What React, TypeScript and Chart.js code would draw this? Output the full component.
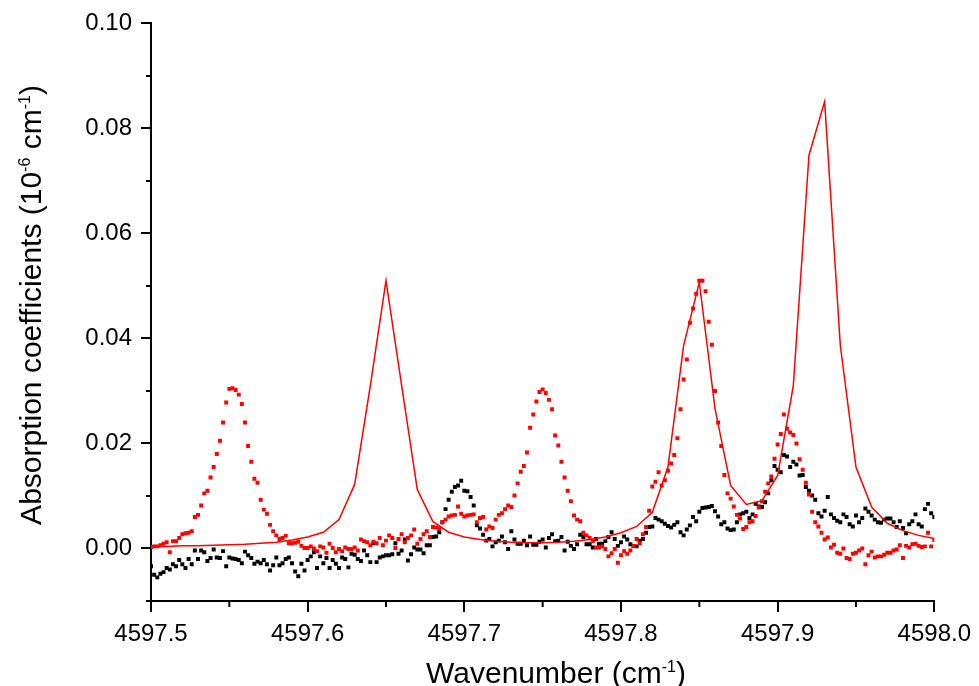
import { useEffect, useRef } from 'react';
import { Chart, ChartConfiguration, registerables } from 'chart.js';

Chart.register(...registerables);

// Measured spectra: sampled every 0.002 cm-1 from 4597.5
const sampleStart = 4597.5;
const sampleStep = 0.002;

const redAbsorption = [
  0.0003, 0.0004, 0.0004, 0.0006, 0.0009, 0.0012, -0.0007, 0.0014, 0.0014, 0.0020,
  0.0027, 0.0029, 0.0030, 0.0033, 0.0060, 0.0064, 0.0082, 0.0105, 0.0110, 0.0135,
  0.0155, 0.0180, 0.0205, 0.0240, 0.0278, 0.0304, 0.0305, 0.0302, 0.0293, 0.0275,
  0.0240, 0.0195, 0.0165, 0.0133, 0.0125, 0.0093, 0.0074, 0.0066, 0.0045, 0.0033,
  0.0025, 0.0018, 0.0020, 0.0024, 0.0010, 0.0010, 0.0011, 0.0013, 0.0005, 0.0001,
  0.0001, 0.0004, 0.0000, -0.0005, 0.0004, 0.0002, -0.0008, 0.0009, 0.0001, -0.0007,
  -0.0001, -0.0005, 0.0002, -0.0001, -0.0001, 0.0002, -0.0004, 0.0017, 0.0014, 0.0012,
  0.0006, 0.0013, 0.0010, 0.0020, 0.0006, 0.0015, 0.0025, 0.0020, 0.0001, 0.0018,
  0.0027, 0.0012, 0.0020, 0.0025, 0.0036, 0.0009, 0.0018, 0.0027, 0.0033, 0.0022,
  0.0041, 0.0040, 0.0038, 0.0050, 0.0055, 0.0061, 0.0063, 0.0064, 0.0080, 0.0066,
  0.0061, 0.0063, 0.0064, 0.0065, 0.0050, 0.0058, 0.0060, 0.0036, 0.0042, 0.0039,
  0.0055, 0.0064, 0.0067, 0.0075, 0.0082, 0.0079, 0.0101, 0.0124, 0.0146, 0.0157,
  0.0183, 0.0230, 0.0255, 0.0280, 0.0298, 0.0303, 0.0296, 0.0283, 0.0265, 0.0215,
  0.0196, 0.0165, 0.0135, 0.0110, 0.0090, 0.0063, 0.0055, 0.0052, 0.0030, 0.0025,
  0.0020, 0.0014, 0.0002, 0.0002, 0.0004, -0.0001, -0.0015, -0.0009, -0.0001, -0.0027,
  -0.0013, -0.0005, -0.0010, -0.0004, 0.0005, 0.0018, 0.0010, 0.0027, 0.0041, 0.0072,
  0.0118, 0.0127, 0.0145, 0.0120, 0.0130, 0.0148, 0.0162, 0.0178, 0.0210, 0.0265,
  0.0322, 0.0360, 0.0430, 0.0457, 0.0485, 0.0510, 0.0510, 0.0490, 0.0432, 0.0388,
  0.0300, 0.0240, 0.0195, 0.0140, 0.0105, 0.0095, 0.0080, 0.0064, 0.0057, 0.0037,
  0.0041, 0.0050, 0.0052, 0.0062, 0.0078, 0.0090, 0.0108, 0.0124, 0.0137, 0.0171,
  0.0198, 0.0218, 0.0255, 0.0228, 0.0221, 0.0216, 0.0200, 0.0170, 0.0150, 0.0125,
  0.0103, 0.0070, 0.0050, 0.0042, 0.0030, 0.0017, 0.0021, 0.0002, 0.0007, -0.0008,
  -0.0010, 0.0000, -0.0018, -0.0020, -0.0010, -0.0008, -0.0004, 0.0000, -0.0030, -0.0013,
  -0.0006, -0.0017, -0.0015, -0.0015, -0.0012, -0.0008, -0.0008, -0.0004, -0.0002, 0.0006,
  -0.0018, 0.0005, 0.0002, 0.0008, 0.0009, 0.0005, 0.0003, 0.0004, 0.0030, 0.0004,
  0.0016,
];

const blackAbsorption = [
  -0.0034, -0.0050, -0.0055, -0.0048, -0.0045, -0.0037, -0.0040, -0.0030, -0.0034, -0.0022,
  -0.0030, -0.0037, -0.0020, -0.0030, -0.0004, -0.0020, -0.0004, -0.0007, -0.0024, -0.0018,
  -0.0002, -0.0017, -0.0018, -0.0005, -0.0034, -0.0017, -0.0019, -0.0020, -0.0022, -0.0028,
  -0.0006, -0.0013, -0.0018, -0.0029, -0.0025, -0.0028, -0.0022, -0.0030, -0.0042, -0.0032,
  -0.0017, -0.0032, -0.0028, -0.0020, -0.0017, -0.0028, -0.0044, -0.0053, -0.0029, -0.0042,
  -0.0022, -0.0015, -0.0007, -0.0037, -0.0015, -0.0028, -0.0018, -0.0037, -0.0022, -0.0029,
  -0.0037, -0.0017, -0.0020, -0.0036, -0.0010, -0.0012, -0.0020, -0.0024, -0.0004, -0.0013,
  -0.0026, 0.0010, -0.0026, -0.0017, -0.0015, -0.0013, -0.0013, -0.0011, 0.0010, -0.0010,
  -0.0004, 0.0017, -0.0023, -0.0011, 0.0002, -0.0002, -0.0002, -0.0009, 0.0006, 0.0006,
  0.0022, 0.0023, 0.0031, 0.0050, 0.0075, 0.0093, 0.0108, 0.0117, 0.0120, 0.0129,
  0.0110, 0.0109, 0.0098, 0.0082, 0.0044, 0.0038, 0.0026, 0.0015, 0.0018, 0.0004,
  0.0012, 0.0015, 0.0023, 0.0012, -0.0001, 0.0033, 0.0017, 0.0009, 0.0009, 0.0015,
  0.0006, 0.0023, 0.0007, 0.0007, 0.0013, 0.0017, 0.0002, 0.0020, 0.0027, 0.0014,
  0.0015, 0.0022, -0.0004, 0.0013, 0.0005, -0.0001, 0.0008, 0.0026, 0.0022, 0.0008,
  0.0008, 0.0002, 0.0018, 0.0009, 0.0009, 0.0014, 0.0022, 0.0031, 0.0018, 0.0005,
  0.0012, 0.0023, 0.0017, 0.0008, 0.0005, 0.0004, 0.0015, 0.0018, 0.0030, 0.0041,
  0.0042, 0.0058, 0.0055, 0.0052, 0.0047, 0.0043, 0.0040, 0.0045, 0.0050, 0.0031,
  0.0025, 0.0036, 0.0044, 0.0060, 0.0052, 0.0070, 0.0077, 0.0078, 0.0079, 0.0081,
  0.0071, 0.0061, 0.0046, 0.0050, 0.0038, 0.0035, 0.0036, 0.0050, 0.0065, 0.0067,
  0.0070, 0.0058, 0.0065, 0.0085, 0.0080, 0.0079, 0.0088, 0.0105, 0.0130, 0.0157,
  0.0150, 0.0145, 0.0178, 0.0175, 0.0155, 0.0165, 0.0160, 0.0139, 0.0140, 0.0117,
  0.0110, 0.0101, 0.0093, 0.0067, 0.0061, 0.0072, 0.0098, 0.0065, 0.0058, 0.0053,
  0.0050, 0.0065, 0.0060, 0.0046, 0.0042, 0.0063, 0.0050, 0.0058, 0.0076, 0.0070,
  0.0063, 0.0055, 0.0050, 0.0049, 0.0055, 0.0057, 0.0057, 0.0050, 0.0041, 0.0052,
  0.0039, 0.0029, 0.0046, 0.0052, 0.0065, 0.0046, 0.0042, 0.0075, 0.0085, 0.0067,
  0.0060,
];

// Calculated spectrum (solid red line), every 0.01 cm-1
const modelWavenumbers = [
  4597.50, 4597.51, 4597.52, 4597.53, 4597.54, 4597.55, 4597.56, 4597.57, 4597.58, 4597.59,
  4597.60, 4597.61, 4597.62, 4597.63, 4597.64, 4597.65, 4597.66, 4597.67, 4597.68, 4597.69,
  4597.70, 4597.71, 4597.72, 4597.73, 4597.74, 4597.75, 4597.76, 4597.77, 4597.78, 4597.79,
  4597.80, 4597.81, 4597.82, 4597.83, 4597.84, 4597.85, 4597.86, 4597.87, 4597.88, 4597.89,
  4597.90, 4597.91, 4597.92, 4597.93, 4597.94, 4597.95, 4597.96, 4597.97, 4597.98, 4597.99,
  4598.00,
];
const modelAbsorption = [
  0.0004, 0.0004, 0.0005, 0.0005, 0.0006, 0.0007, 0.0008, 0.0010, 0.0012, 0.0016,
  0.0022, 0.0031, 0.0055, 0.0122, 0.0310, 0.0510, 0.0310, 0.0112, 0.0051, 0.0031,
  0.0022, 0.0017, 0.0014, 0.0012, 0.0011, 0.0011, 0.0012, 0.0014, 0.0017, 0.0022,
  0.0030, 0.0042, 0.0069, 0.0155, 0.0387, 0.0507, 0.0267, 0.0120, 0.0084, 0.0091,
  0.0139, 0.0310, 0.0749, 0.0851, 0.0387, 0.0155, 0.0079, 0.0048, 0.0034, 0.0025,
  0.0019,
];

const xMajorTicks = [4597.5, 4597.6, 4597.7, 4597.8, 4597.9, 4598.0];
const xMinorTicks = [4597.55, 4597.65, 4597.75, 4597.85, 4597.95];
const yMajorTicks = [0, 0.02, 0.04, 0.06, 0.08, 0.1];
const yMinorTicks = [-0.01, 0.01, 0.03, 0.05, 0.07, 0.09];

type Run = { text: string; sup?: boolean };
const xTitle: Run[] = [{ text: 'Wavenumber (cm' }, { text: '-1', sup: true }, { text: ')' }];
const yTitle: Run[] = [
  { text: 'Absorption coefficients (10' },
  { text: '-6', sup: true },
  { text: ' cm' },
  { text: '-1', sup: true },
  { text: ')' },
];

const FONT = "'Liberation Sans', Arial, sans-serif";

function drawRuns(ctx: CanvasRenderingContext2D, runs: Run[], cx: number, baseline: number) {
  const fontFor = (r: Run) => `${r.sup ? 16 : 30}px ${FONT}`;
  let total = 0;
  runs.forEach((r) => {
    ctx.font = fontFor(r);
    total += ctx.measureText(r.text).width;
  });
  let x = cx - total / 2;
  ctx.textAlign = 'left';
  ctx.textBaseline = 'alphabetic';
  ctx.fillStyle = '#000';
  runs.forEach((r) => {
    ctx.font = fontFor(r);
    ctx.fillText(r.text, x, r.sup ? baseline - 11 : baseline);
    x += ctx.measureText(r.text).width;
  });
}

// minor ticks + axis titles with superscripts
const axisDecor = {
  id: 'axisDecor',
  afterDraw(chart: Chart) {
    const { ctx, chartArea } = chart;
    const xs = chart.scales.x;
    const ys = chart.scales.y;
    ctx.save();
    ctx.strokeStyle = '#000';
    ctx.lineWidth = 2;
    ctx.beginPath();
    yMinorTicks.forEach((v) => {
      const py = ys.getPixelForValue(v);
      ctx.moveTo(chartArea.left - 5, py);
      ctx.lineTo(chartArea.left, py);
    });
    xMinorTicks.forEach((v) => {
      const px = xs.getPixelForValue(v);
      ctx.moveTo(px, chartArea.bottom);
      ctx.lineTo(px, chartArea.bottom + 6);
    });
    ctx.stroke();

    drawRuns(ctx, xTitle, 556, 683);

    ctx.translate(41, 305);
    ctx.rotate(-Math.PI / 2);
    drawRuns(ctx, yTitle, 0, 0);
    ctx.restore();
  },
};

export default function App() {
  const canvasRef = useRef<HTMLCanvasElement>(null);

  useEffect(() => {
    if (!canvasRef.current) return;
    const ctx = canvasRef.current.getContext('2d');
    if (!ctx) return;

    const sampleWave = redAbsorption.map((_, i) => +(sampleStart + i * sampleStep).toFixed(4));

    const config: ChartConfiguration<'scatter'> = {
      type: 'scatter',
      data: {
        datasets: [
          {
            label: 'Calculated',
            data: modelWavenumbers.map((x, i) => ({ x, y: modelAbsorption[i] })),
            showLine: true,
            borderColor: '#ff0000',
            borderWidth: 1.5,
            pointRadius: 0,
            tension: 0,
          },
          {
            label: 'Measured (red)',
            data: sampleWave.map((x, i) => ({ x, y: redAbsorption[i] })),
            pointStyle: 'rect',
            pointRadius: 2.8,
            backgroundColor: '#ff0000',
            borderWidth: 0,
          },
          {
            label: 'Measured (black)',
            data: sampleWave.map((x, i) => ({ x, y: blackAbsorption[i] })),
            pointStyle: 'rect',
            pointRadius: 2.8,
            backgroundColor: '#000000',
            borderWidth: 0,
          },
        ],
      },
      options: {
        animation: false,
        responsive: false,
        events: [],
        layout: { padding: { top: 23, right: 42, left: 0, bottom: 0 } },
        plugins: {
          legend: { display: false },
          tooltip: { enabled: false },
        },
        scales: {
          x: {
            type: 'linear',
            min: 4597.5,
            max: 4598.0,
            afterBuildTicks: (s) => {
              s.ticks = xMajorTicks.map((value) => ({ value }));
            },
            afterFit: (s) => {
              s.height = 85;
            },
            ticks: {
              callback: (v) => Number(v).toFixed(1),
              font: { size: 24, family: FONT },
              color: '#000',
              padding: 8,
              maxRotation: 0,
              autoSkip: false,
            },
            grid: { drawOnChartArea: false, drawTicks: true, tickLength: 11, color: '#000', lineWidth: 2 },
            border: { display: true, color: '#000', width: 2 },
          },
          y: {
            type: 'linear',
            min: -0.01,
            max: 0.1,
            afterBuildTicks: (s) => {
              s.ticks = yMajorTicks.map((value) => ({ value }));
            },
            afterFit: (s) => {
              s.width = 151;
            },
            ticks: {
              callback: (v) => Number(v).toFixed(2),
              font: { size: 24, family: FONT },
              color: '#000',
              padding: 9,
            },
            grid: { drawOnChartArea: false, drawTicks: true, tickLength: 10, color: '#000', lineWidth: 2 },
            border: { display: true, color: '#000', width: 2 },
          },
        },
      },
      plugins: [axisDecor],
    };

    const chart = new Chart(ctx, config);
    return () => {
      chart.destroy();
    };
  }, []);

  return (
    <div style={{ position: 'absolute', left: 0, top: 0, width: 979, height: 686, background: '#fff' }}>
      <canvas ref={canvasRef} width={979} height={686} style={{ display: 'block' }} />
    </div>
  );
}
